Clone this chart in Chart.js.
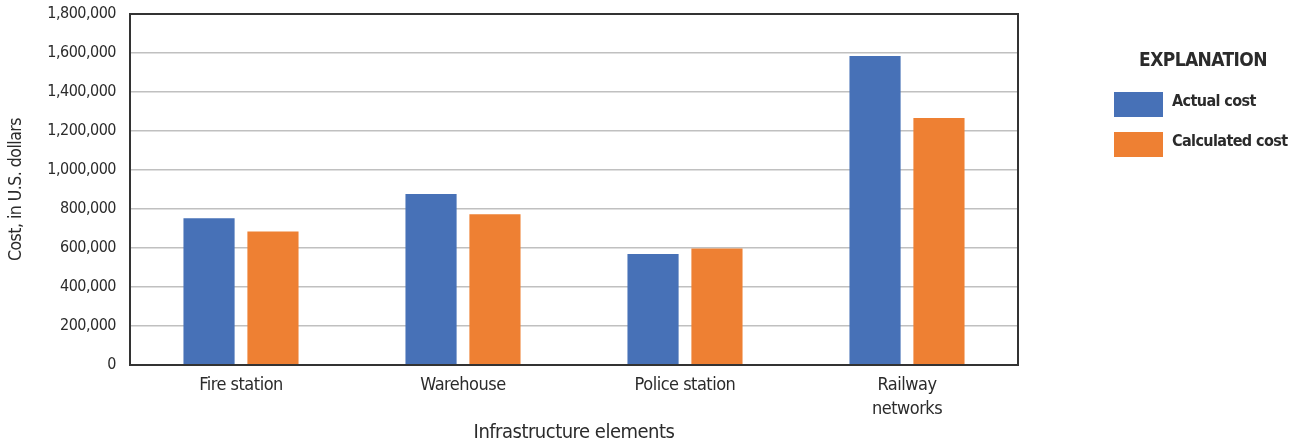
<!DOCTYPE html>
<html>
<head>
<meta charset="utf-8">
<script src="https://cdn.jsdelivr.net/npm/chart.js@4/dist/chart.umd.min.js"></script>
<style>
  html, body { margin: 0; padding: 0; background: #ffffff; }
  #wrap { width: 1300px; height: 443px; }
</style>
</head>
<body>
<div id="wrap"><canvas id="c" width="1300" height="443"></canvas></div>
<script>
// Infrastructure elements and their costs, in U.S. dollars
const categories = ['Fire station', 'Warehouse', 'Police station', ['Railway', 'networks']];
const actualCost = [752000, 877000, 569000, 1585000];
const calculatedCost = [685000, 773000, 598000, 1267000];
const yTicks = [0, 200000, 400000, 600000, 800000, 1000000, 1200000, 1400000, 1600000, 1800000];

const seriesNames = ['Actual cost', 'Calculated cost'];
const seriesColors = ['#4771b7', '#ee8033'];

const FONT = "'DejaVu Sans Condensed', 'Liberation Sans Narrow', 'Roboto', sans-serif";
const INK = '#2b2b2b';
const TIGHT = '-0.5px';

// Narrow type: tighten the letter spacing for all text drawn by the chart
const tightText = {
  id: 'tightText',
  beforeLayout(chart) { chart.ctx.letterSpacing = TIGHT; },
  beforeDraw(chart) { chart.ctx.letterSpacing = TIGHT; }
};

// Frame around the plotting area
const frame = {
  id: 'frame',
  afterDatasetsDraw(chart) {
    const { ctx, chartArea: a } = chart;
    ctx.save();
    ctx.strokeStyle = '#333333';
    ctx.lineWidth = 2;
    ctx.strokeRect(a.left, a.top, a.right - a.left, a.bottom - a.top);
    ctx.restore();
  }
};

// "EXPLANATION" key at the right of the chart
const explanation = {
  id: 'explanation',
  afterDraw(chart) {
    const { ctx } = chart;
    ctx.save();
    ctx.letterSpacing = '-0.6px';
    ctx.fillStyle = INK;
    ctx.textBaseline = 'middle';
    ctx.textAlign = 'center';
    ctx.font = 'bold 19px ' + FONT;
    ctx.fillText('EXPLANATION', 1203, 61);
    ctx.textAlign = 'left';
    ctx.font = 'bold 16px ' + FONT;
    chart.data.datasets.forEach((ds, i) => {
      const y = 92 + i * 40;
      ctx.fillStyle = ds.backgroundColor;
      ctx.fillRect(1114, y, 49, 25);
      ctx.fillStyle = INK;
      ctx.fillText(ds.label, 1172, y + 10);
    });
    ctx.restore();
  }
};

new Chart(document.getElementById('c'), {
  type: 'bar',
  data: {
    labels: categories,
    datasets: [
      { label: seriesNames[0], data: actualCost, backgroundColor: seriesColors[0] },
      { label: seriesNames[1], data: calculatedCost, backgroundColor: seriesColors[1] }
    ]
  },
  options: {
    responsive: false,
    animation: false,
    devicePixelRatio: 1,
    layout: { padding: { top: 14, right: 282, bottom: 0, left: 0 } },
    datasets: { bar: { barPercentage: 0.8, categoryPercentage: 0.576 } },
    plugins: {
      legend: { display: false },
      tooltip: { enabled: false }
    },
    scales: {
      x: {
        grid: { display: false, drawTicks: false },
        border: { display: false },
        ticks: {
          color: INK,
          padding: 9,
          maxRotation: 0,
          font: { family: FONT, size: 18, lineHeight: 1.3 }
        },
        title: {
          display: true,
          text: 'Infrastructure elements',
          color: INK,
          padding: { top: 0, bottom: 0 },
          font: { family: FONT, size: 20, lineHeight: 1.0 }
        },
        afterFit(scale) {
          scale.height = 78;
          scale.paddingLeft = 0;
          scale.paddingRight = 0;
        }
      },
      y: {
        min: 0,
        max: 1800000,
        afterBuildTicks(scale) { scale.ticks = yTicks.map(v => ({ value: v })); },
        grid: { color: '#c0c0c0', lineWidth: 1.5, drawTicks: false },
        border: { display: false },
        ticks: {
          color: INK,
          padding: 14,
          font: { family: FONT, size: 16 },
          callback: v => v.toLocaleString('en-US')
        },
        title: {
          display: true,
          text: 'Cost, in U.S. dollars',
          color: INK,
          padding: { top: 6, bottom: 0 },
          font: { family: FONT, size: 17.5, lineHeight: 1.2 }
        },
        afterFit(scale) {
          scale.width = 130;
          scale.paddingTop = 0;
          scale.paddingBottom = 0;
        }
      }
    }
  },
  plugins: [tightText, frame, explanation]
});
</script>
</body>
</html>
